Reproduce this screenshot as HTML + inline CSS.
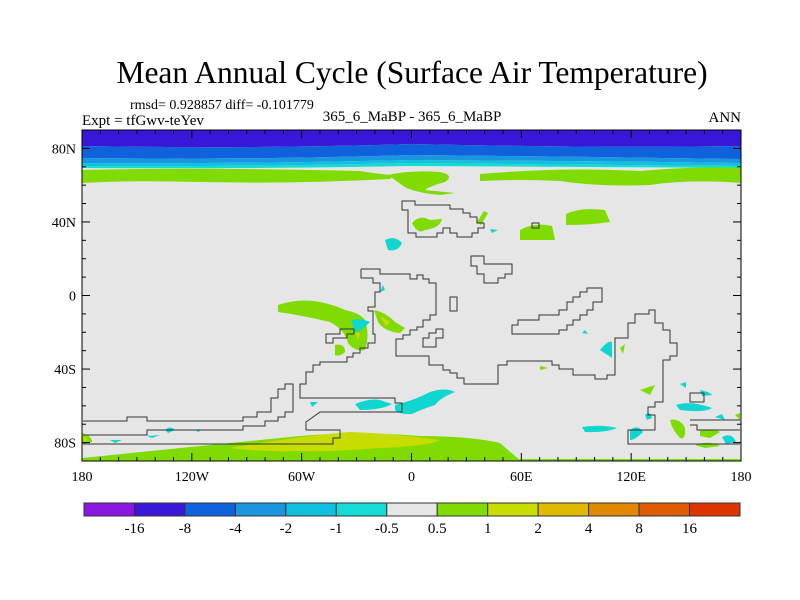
<!DOCTYPE html>
<html><head><meta charset="utf-8"><style>
html,body{margin:0;padding:0;background:#fff;}
svg{display:block;font-family:"Liberation Serif",serif;}
</style></head><body>
<svg id="svg" width="800" height="600" viewBox="0 0 800 600" xmlns="http://www.w3.org/2000/svg">
<text x="412" y="83" font-size="31.5" text-anchor="middle">Mean Annual Cycle (Surface Air Temperature)</text>
<text x="130" y="109" font-size="14">rmsd= 0.928857 diff= -0.101779</text>
<text x="82" y="125" font-size="15">Expt = tfGwv-teYev</text>
<text x="412" y="121" font-size="15" text-anchor="middle">365_6_MaBP - 365_6_MaBP</text>
<text x="741" y="122" font-size="15" text-anchor="end">ANN</text>
<g id="map">
<rect x="82" y="130" width="659" height="331" fill="#e6e6e6"/>
<path fill="#3a16d8" d="M82 130H741V146Q600 148 411 144Q250 149 82 146Z"/>
<path fill="#1062dc" d="M82 146Q250 149 411 144Q600 148 741 146V159Q600 157 411 155Q250 160 82 158Z"/>
<path fill="#1a96e0" d="M82 158Q250 160 411 155Q600 157 741 159V163Q600 161 411 160Q250 164 82 163Z"/>
<path fill="#10c0e0" d="M82 163Q250 164 411 160Q600 161 741 163V166Q600 165 411 163Q250 167 82 166Z"/>
<path fill="#14dcd4" d="M82 166Q250 167 411 163Q600 165 741 166V168Q600 167 411 166Q250 169 82 168Z"/>
<g fill="#80dc00">
<path d="M82 170Q200 167 360 171Q385 175 395 175L390 179Q300 184 200 182Q130 180 82 183Z"/>
<path d="M388 175Q410 170 440 172Q455 175 445 182Q430 186 425 190L455 193L440 195Q410 192 402 185Q395 180 388 175Z"/>
<path d="M480 174Q560 167 640 171Q700 166 741 168V183Q690 179 650 185Q600 187 560 181Q520 179 480 181Z"/>
<path d="M412 223Q420 214 430 220L442 219Q440 228 425 230Q418 235 412 223Z"/>
<path d="M477 222L484 211L488 213L481 225Z"/>
<path d="M520 230Q535 222 552 226L555 240Q540 240 520 240Z"/>
<path d="M566 214Q580 207 605 210L610 222Q590 225 566 225Z"/>
<path d="M278 305Q300 298 320 302Q335 305 345 310Q360 313 365 320Q370 335 365 350Q355 352 348 343Q345 330 330 322Q300 315 278 312Z"/>
<path d="M374 310Q385 312 395 322L405 328L400 333Q385 332 378 322Z"/>
<path d="M335 345Q345 343 345 352Q340 357 335 355Z"/>
<path d="M82 458Q200 446 300 436Q360 431 420 436Q470 436 500 443Q510 452 520 460H82Z"/>
<path d="M82 433Q92 436 92 442L82 444Z"/>
<path d="M670 420Q680 418 685 428Q686 440 680 438Q672 430 670 420Z"/>
<path d="M700 430Q715 428 720 432L710 438L700 436Z"/>
<path d="M695 445Q710 440 720 446L705 448Z"/>
<path d="M735 415L740 413L740 420Z"/>
<path d="M620 348L625 344L623 354Z"/>
<path d="M540 366L548 368L540 370Z"/>
<path d="M640 390L655 385L650 395Z"/>
<path d="M82 459H741V461H82Z"/>
</g>
<g fill="#c8dc00">
<path d="M230 448Q300 436 350 432Q400 434 440 440Q430 446 380 448Q330 452 300 451Q260 452 230 448Z"/>
<path d="M84 436L88 440L84 442Z"/>
<path d="M380 316L390 322L386 326Z"/>
<path d="M355 333L360 333L358 340Z"/>
</g>
<g fill="#10d6d0">
<path d="M385 240Q395 235 402 243Q398 252 388 250Z"/>
<path d="M490 229L498 230L492 233Z"/>
<path d="M383 285L385 290L380 292Z"/>
<path d="M351 320Q362 318 370 322Q360 332 355 332Z"/>
<path d="M355 404Q370 398 380 400L392 404Q382 410 360 410Z"/>
<path d="M395 405Q415 400 430 392Q445 387 455 392Q440 398 435 405Q420 410 412 414Q400 415 395 410Z"/>
<path d="M310 402L318 402L312 407Z"/>
<path d="M600 350Q608 340 612 342L612 358Z"/>
<path d="M582 333L585 330L588 334Z"/>
<path d="M582 427Q600 424 617 428Q605 433 585 432Z"/>
<path d="M630 430Q638 424 643 432Q635 440 630 440Z"/>
<path d="M645 415Q650 410 652 418L647 420Z"/>
<path d="M676 405Q690 400 712 408Q705 413 680 410Z"/>
<path d="M715 417L722 414L725 420Z"/>
<path d="M722 437Q732 432 736 442L726 444Z"/>
<path d="M680 384L686 382L686 388Z"/>
<path d="M700 390Q710 392 712 395L702 396Z"/>
<path d="M110 440L122 440L115 443Z"/>
<path d="M147 436L160 435L152 438Z"/>
<path d="M165 430Q170 425 175 430L168 433Z"/>
<path d="M195 430L202 430L198 432Z"/>
</g>
<g fill="none" stroke="#333" stroke-width="1">
<path d="M402 201H415V205H450V209H463V213H470V217H477V223H484V228H478V233H472V237H457V233H450V228H443V233H437V237H416V233H408V210H402Z"/>
<path d="M532 223H539V228H532Z"/>
<path d="M471 256H484V264H512V274H505V278H498V283H484V274H477V266H471Z"/>
<path d="M450 297H457V311H450Z"/>
<path d="M423 338H429V333H436V329H443V338H436V347H423Z"/>
<path d="M326 334H340V329H354V334H347V338H333V343H326Z"/>
<path d="M512 325H518V320H539V315H559V310H567V302H573V297H580V292H587V288H602V302H593V310H587V315H580V320H573V325H567V330H559V334H512Z"/>
<path d="M361 269H380V274H410V279H417V275H423V279H429V283H436V315H430V320H423V327H417V330H410V335H403V339H396V356H429V365H443V370H450V373H457V378H464V384H498V365H507V361H552V365H559V369H573V375H595V379H607V375H615V338H628V323H635V314H649V310H655V323H663V330H670V343H677V356H670V360H663V402H655V407H648V415H655V430H628V444H740"/>
<path d="M361 269V278H373V283H380V292H375V307H368V311H373V334H375V343H368V348H360V353H353V357H347V362H320V365H313V372H306V384H300V398H395V403H402V412H320L313 417L306 422V430H340V438H333V444H83"/>
<path d="M83 421H127V417H147V421H243V417H257V412H271V398H278V389H285V384H293V412H285V417H278V421H265V426H243V430H147V435H83"/>
<path d="M690 420H740M690 425H697V430H740"/>
<path d="M690 393H704V402H690Z"/>
</g>
</g>
<g id="axes"></g>
<g id="colorbar"></g>
</svg>
<script>
const latTicks=[80,40,0,-40,-80];
const latLabels=["80N","40N","0","40S","80S"];
const lonTicks=[-180,-120,-60,0,60,120,180];
const lonLabels=["180","120W","60W","0","60E","120E","180"];
const cbColors=["#8a18e0","#3a16d8","#1062dc","#1a96e0","#10c0e0","#14dcd4","#e6e6e6","#80dc00","#c8dc00","#e0b800","#e08800","#e05c00","#e03400"];
const cbLabels=["-16","-8","-4","-2","-1","-0.5","0.5","1","2","4","8","16"];
const X0=82,X1=741,Y0=130,Y1=461;
const xs=lon=>X0+(lon+180)/360*(X1-X0);
const ys=lat=>Y0+(90-lat)/180*(Y1-Y0);
const NS="http://www.w3.org/2000/svg";
const ax=document.getElementById('axes');
function mk(tag,attrs,parent){const e=document.createElementNS(NS,tag);for(const k in attrs)e.setAttribute(k,attrs[k]);parent.appendChild(e);return e;}
const frame=mk('rect',{x:X0,y:Y0,width:X1-X0,height:Y1-Y0,fill:'none',stroke:'#000','stroke-width':1},ax);


for(let lat=-90;lat<=90;lat+=10){const y=ys(lat);const L=(lat%40===0)?8:4;
 mk('line',{x1:X0,x2:X0+L,y1:y,y2:y,stroke:'#000'},ax);mk('line',{x1:X1,x2:X1-L,y1:y,y2:y,stroke:'#000'},ax);}
for(let lon=-180;lon<=180;lon+=10){const x=xs(lon);const L=(lon%60===0)?8:4;
 mk('line',{x1:x,x2:x,y1:Y1,y2:Y1-L,stroke:'#000'},ax);mk('line',{x1:x,x2:x,y1:Y0,y2:Y0+L,stroke:'#000'},ax);}
latTicks.forEach((v,i)=>{const t=mk('text',{x:X0-6,y:ys(v)+5,'font-size':14,'text-anchor':'end'},ax);t.textContent=latLabels[i];
 
 });
lonTicks.forEach((v,i)=>{const t=mk('text',{x:xs(v),y:481,'font-size':14,'text-anchor':'middle'},ax);t.textContent=lonLabels[i];
 
 });
const cb=document.getElementById('colorbar');
const CB0=84,CB1=740,CBW=(CB1-CB0)/cbColors.length;
cbColors.forEach((c,i)=>{const r=mk('rect',{x:CB0+i*CBW,y:503,width:CBW,height:13,fill:c,stroke:'#333','stroke-width':1},cb);
 
 });
cbLabels.forEach((l,i)=>{const t=mk('text',{x:CB0+(i+1)*CBW,y:533,'font-size':15,'text-anchor':'middle'},cb);t.textContent=l;
 
 });
</script>
</body></html>
